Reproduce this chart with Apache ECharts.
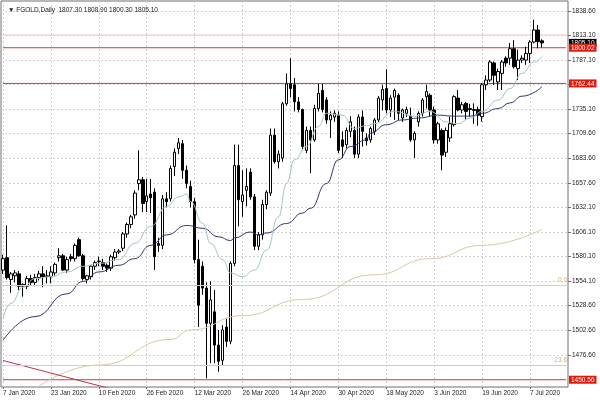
<!DOCTYPE html>
<html>
<head>
<meta charset="utf-8">
<script src="https://cdn.jsdelivr.net/npm/echarts@6/dist/echarts.min.js"></script>
<style>
  html, body { margin: 0; background: #fff; }
  #chart { width: 600px; height: 400px; }
</style>
</head>
<body>
<div id="chart"></div>
<script>
// daily bars, 7 Jan 2020 .. 10 Jul 2020
const opens  = [1566,1579,1556,1560,1562,1549,1549,1557,1553,1558,1562,1559,1559,1563,1579,1581,1566,1580,1578,1598,
                1581,1556,1559,1570,1575,1574,1571,1568,1579,1585,1589,1604,1614,1624,1657,1661,1638,1646,1648,1594,
                1592,1641,1641,1675,1694,1699,1671,1654,1638,1577,1570,1547,1510,1522,1487,1471,1506,1491,1573,1676,
                1638,1650,1669,1643,1591,1603,1635,1647,1708,1680,1684,1741,1762,1761,1743,1735,1692,1713,1703,1736,
                1755,1745,1724,1727,1729,1703,1698,1712,1713,1688,1727,1705,1703,1712,1724,1745,1757,1734.5,1748,1750,
                1726,1731,1728,1703,1722,1731,1748.5,1750,1734.5,1703,1713,1690,1705,1719,1747,1734.5,1741.5,1736,1735,1735,
                1727.5,1761,1766,1784,1764,1773,1789,1789,1799,1778,1787,1787,1794,1806,1818.7,1807.3];
const highs  = [1582,1613,1564,1566,1565,1552,1560,1561,1562,1565,1570,1566,1570,1574,1589,1583,1580,1583,1594,1600,
                1583,1561,1571,1576,1580,1578,1573,1582,1588,1588,1606,1616,1624,1650,1692,1664,1662,1662,1652,1600,
                1645,1648,1676,1694,1705,1703,1676,1660,1642,1598,1575,1553,1554,1545,1503,1508,1515,1575,1698,1698,
                1671,1673,1673,1646,1606,1640,1650,1715,1715,1692,1743,1773,1789,1768,1748,1736,1717,1717,1740,1762,
                1762,1748,1733,1734,1733,1712,1716,1728,1717,1730,1734,1710,1717,1726,1749,1761,1777,1750,1757,1752,
                1736,1738,1737,1712,1733,1747,1761,1752,1738,1722,1715,1716,1727.5,1750,1755.5,1743,1743,1741,1741.5,1738,
                1762.5,1771,1787,1785.5,1778,1787,1791,1805,1808,1798,1792,1801,1808,1829.5,1824,1808.9];
const lows   = [1562,1556,1542,1553,1545,1538,1546,1550,1549,1555,1548,1552,1552,1560,1575,1565,1563,1575,1575,1580,
                1555,1552,1556,1566,1570,1566,1564,1565,1576,1583,1586,1600,1610,1620,1650,1627,1627,1626,1566,1585,
                1588,1632,1638,1665,1688,1662,1652,1632,1573,1506,1540,1452,1468,1468,1459,1466,1485,1488,1570,1612,
                1622,1633,1640,1587,1587,1598,1630,1644,1678,1673,1680,1739,1748,1733,1732,1692,1689,1668,1701,1733,
                1732,1720,1705,1722,1689,1684,1694,1706,1684,1684,1696,1697,1700,1708,1722,1734,1731,1727,1724,1724,
                1722,1727,1701,1684,1717,1727.5,1736,1727.5,1699,1699,1671,1685,1701,1717,1733,1731,1724,1727.5,1720,1718,
                1722,1755.5,1764,1761,1755.5,1755.5,1780,1782,1778,1766,1784,1782,1784,1804.6,1799.4,1800.3];
const closes = [1578,1558,1562,1563,1549,1551,1557,1553,1558,1562,1559,1560,1564,1572,1581,1566,1577,1578,1592,1581,
                1557,1560,1570,1574,1575.5,1570,1568,1580,1585,1586,1604,1614,1622,1647,1661,1636,1644,1642,1580,1592,
                1641,1638,1673,1690,1700,1671,1657,1638,1577,1529,1547,1510,1534.5,1487,1470,1503,1491,1573,1676,1640,
                1645,1654,1643,1591,1603,1635,1648,1708,1680,1688,1741,1762,1757,1743,1735,1696,1713,1703,1736,1752,
                1735,1724,1729,1731,1692,1696,1713,1722,1688,1727,1712,1702,1715,1724,1747,1756,1734.5,1747,1755,1731,
                1734.5,1735,1703,1710,1731,1745,1754,1734.5,1703,1720,1687,1713,1720,1748.5,1734.5,1740,1733,1735,1734,1729,
                1761,1766,1785,1771,1775,1785,1784,1799,1780,1787,1789,1794,1806,1818.7,1806.4,1805.1];

// moving averages: [bar index, price]
const maFast = [[0,1515],[2,1531],[5,1548],[8,1557],[12,1559],[16,1564],[20,1570],[24,1573],[29,1577],[33,1594],
                [37,1612],[41,1633],[44,1643],[46,1646],[47,1638],[50,1615],[52,1594],[55,1577],[57,1563],[60,1559],
                [63,1566],[66,1587],[69,1622],[71,1657],[73,1682],[76,1696],[79,1717],[81,1731],[85,1729],[88,1715],
                [91,1718],[93,1720],[98,1733],[103,1728],[107,1733],[111,1722],[114,1720],[117,1726],[120,1733],[124,1745],
                [127,1757],[130,1773],[133,1785],[135,1791]];
const maMid  = [[0,1492],[8,1517],[16,1541],[20,1554],[24,1564],[29,1571],[33,1578],[37,1592],[41,1603],[46,1613],
                [50,1610],[54,1601],[57,1597],[58,1600],[62,1606],[64,1603],[66,1605],[71,1615],[75,1626],[77,1631],
                [81,1657],[84,1682],[87,1696],[91,1703],[92,1710],[96,1719],[100,1724],[104,1726],[109,1729],[113,1728],
                [117,1728],[120,1731],[124,1736],[127,1742],[130,1749],[135,1759]];
const maSlow = [[8,1441],[24,1466],[42,1493],[47,1503],[60,1518],[75,1535],[93,1561],[107,1578],[120,1592],[135,1609]];
const trendLine = [[0,1470.8],[28,1439.9]];

const dateLabels = ['7 Jan 2020','23 Jan 2020','10 Feb 2020','26 Feb 2020','12 Mar 2020','26 Mar 2020',
                    '14 Apr 2020','30 Apr 2020','18 May 2020','3 Jun 2020','19 Jun 2020','7 Jul 2020'];
const priceTicks = [1476.60,1502.60,1528.60,1554.10,1580.10,1606.10,1632.10,1657.60,
                    1683.60,1709.60,1735.10,1761.10,1787.10,1813.10,1838.60];
const redLevels = [1800.02, 1762.44, 1450.56];
const fibLevels = [['0.0', 1550.3], ['23.6', 1466.1]];
const askLevel = 1813.4;

const slotCount = 142;   // bars plus empty space on the right
const yMin = 1442.9, yMax = 1849.2;
const FONT = '"Liberation Sans", Arial, sans-serif';
const RED = '#d23a3a';

const cats = [];
for (let i = 0; i < slotCount; i++) cats.push(String(i));
const ohlc = opens.map((o, i) => [o, closes[i], lows[i], highs[i]]);
const last = opens.length - 1;
const lastClose = closes[last];
const head = [opens[last], highs[last], lows[last], lastClose].map(v => v.toFixed(2)).join(' ');

// price boxes: one hidden axis each so that overlapping boxes are both kept
const boxAxis = (values, bg) => ({
  type: 'value', position: 'right', min: yMin, max: yMax,
  axisLine: { show: false }, axisTick: { show: false }, splitLine: { show: false },
  axisLabel: {
    customValues: values, margin: 1, hideOverlap: false,
    formatter: v => '{b|' + v.toFixed(2) + '}',
    rich: { b: { backgroundColor: bg, color: '#fff', padding: [1, 2, 0, 2], fontSize: 6.5, fontFamily: FONT } }
  }
});

// horizontal levels drawn as flat line series across all slots
const flatLine = (price, color, z) => ({
  type: 'line', data: [[0, price], [slotCount - 1, price]], symbol: 'none', silent: true, z: z,
  lineStyle: { color: color, width: 1, type: 'solid' }
});

const maLine = (data, color) => ({
  type: 'line', data: data, symbol: 'none', smooth: 0.5, smoothMonotone: 'x',
  lineStyle: { color: color, width: 1 }, silent: true, z: 3
});

const series = [
  flatLine(askLevel, '#f0c4c4', 1),
  {
    type: 'line', data: [], silent: true, z: 1,
    markLine: {
      symbol: 'none', silent: true, animation: false,
      data: fibLevels.map(f => ({
        yAxis: f[1], lineStyle: { color: '#e2cf98', width: 1, type: 'solid' },
        label: { show: true, position: 'insideEndTop', distance: 1, formatter: f[0], color: '#cdb36e', fontSize: 6.5, fontFamily: FONT }
      }))
    }
  }
];
redLevels.forEach(p => series.push(flatLine(p, RED, 1)));
series.push(
  {
    type: 'candlestick', data: ohlc, barWidth: 3, z: 2,
    itemStyle: { color: '#fff', color0: '#000', borderColor: '#000', borderColor0: '#000', borderWidth: 1 }
  },
  maLine(maSlow, '#d9c9a0'),
  maLine(maMid, '#34346f'),
  maLine(maFast, '#9fc6c6'),
  {
    type: 'line', data: trendLine, symbol: 'none', silent: true, z: 3,
    lineStyle: { color: '#b8344a', width: 1 }
  }
);

const chart = echarts.init(document.getElementById('chart'));
chart.setOption({
  animation: false,
  backgroundColor: '#fff',
  title: {
    text: '\u25BC FGOLD,Daily  ' + head, left: 3, top: 2,
    textStyle: { fontSize: 6.5, fontWeight: 'normal', color: '#222', fontFamily: FONT }
  },
  grid: { left: 0, right: 32, top: 1, bottom: 13, show: true, borderColor: '#6e6e6e', borderWidth: 1 },
  xAxis: {
    type: 'category', data: cats, boundaryGap: true,
    axisLine: { show: false },
    axisTick: { show: true, interval: 11, alignWithLabel: true, length: 2, lineStyle: { color: '#6e6e6e' } },
    axisLabel: {
      interval: 11, align: 'left', margin: 3, fontSize: 6.5, color: '#222', fontFamily: FONT,
      formatter: (v, i) => dateLabels[i / 12] || ''
    },
    splitLine: { show: true, interval: 11, alignWithLabel: true, lineStyle: { color: '#d2d2d2', type: [2, 2] } }
  },
  yAxis: [
    {
      type: 'value', position: 'right', min: yMin, max: yMax,
      axisLine: { show: false },
      axisTick: { show: true, customValues: priceTicks, length: 3, lineStyle: { color: '#6e6e6e' } },
      axisLabel: {
        customValues: priceTicks, margin: 4, fontSize: 6.5, color: '#222', fontFamily: FONT,
        formatter: v => v.toFixed(2)
      },
      splitLine: { show: true, lineStyle: { color: '#d2d2d2', type: [2, 2] } }
    },
    boxAxis([lastClose], '#000'),
    boxAxis(redLevels, '#e3170a')
  ],
  series: series
});
</script>
</body>
</html>
